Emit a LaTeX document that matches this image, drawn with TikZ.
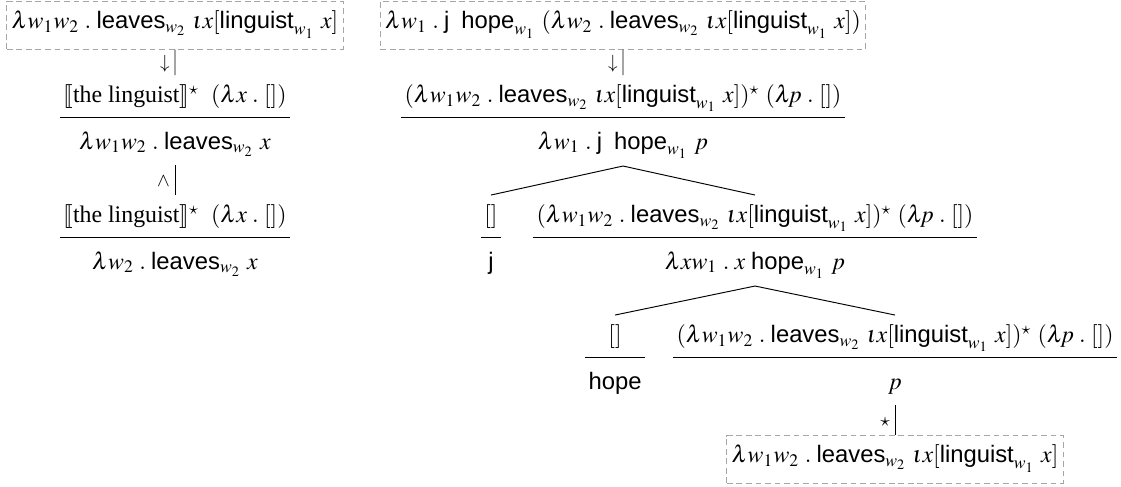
\documentclass[tikz,border=0pt]{standalone}
\usepackage{amsmath}
\usepackage{mathptmx}
\usepackage{stmaryrd}
\usepackage{fontspec}
\setmainfont{Liberation Serif}
\setsansfont{Liberation Sans}
\usepackage{tikz}

\newcommand{\cn}[1]{\textsf{#1}}
\newcommand{\sem}[1]{\llbracket\text{#1}\rrbracket}
\newcommand{\leavesterm}{\lambda w_1 w_2\;.\;\cn{leaves}_{w_2}\ \iota x[\cn{linguist}_{w_1}\ x]}
\newcommand{\inferfrac}[2]{%
  \begin{tabular}{@{\hspace{1.5pt}}c@{\hspace{1.5pt}}}
    $#1$\\[2.5pt]\hline
    \rule{0pt}{13pt}$#2$
  \end{tabular}}

\begin{document}
\begin{tikzpicture}[x=0.42pt,y=-0.42pt,
  every node/.style={anchor=north},
  growth parent anchor=north,
  parent anchor=south, child anchor=north,
  level 1/.style={level distance=31.1pt},
  level 2/.style={level distance=50.4pt, sibling distance=110.9pt},
  level 3/.style={sibling distance=117.6pt},
  semterm/.style={draw=gray!70, dash pattern=on 2.4pt off 1.6pt,
    inner xsep=2pt, inner ysep=4.5pt, text height=7pt, text depth=4pt},
  inferstep/.style={inner xsep=0pt, inner ysep=3pt},
  steplabel/.style={left, font=\footnotesize, inner sep=2pt, pos=0.55}]
  \useasboundingbox (0,0) rectangle (1121,487);

  % left derivation
  \node[semterm] (boxA) at (175,1) {$\leavesterm$}
    child {node[inferstep] (la) {\inferfrac{\sem{the linguist}^\star\ \ (\lambda x\;.\;[])}{\lambda w_1 w_2\;.\;\cn{leaves}_{w_2}\ x}}
      child {node[inferstep] (lb) {\inferfrac{\sem{the linguist}^\star\ \ (\lambda x\;.\;[])}{\lambda w_2\;.\;\cn{leaves}_{w_2}\ x}}
        edge from parent node[steplabel] {$\wedge$}}
      edge from parent node[steplabel] {$\downarrow$}};

  % right derivation
  \node[semterm] (boxB) at (623,1) {$\lambda w_1\;.\;\cn{j}\ \ \cn{hope}_{w_1}\ (\lambda w_2\;.\;\cn{leaves}_{w_2}\ \iota x[\cn{linguist}_{w_1}\ x])$}
    child {node[inferstep] (ra) {\inferfrac{(\leavesterm)^\star\ (\lambda\!p\;.\;[])}{\lambda w_1\;.\;\cn{j}\ \ \cn{hope}_{w_1}\ p}}
      child {node[inferstep] (rj) {\inferfrac{[]}{\cn{j}}}}
      child {node[inferstep] (rb) {\inferfrac{(\leavesterm)^\star\ (\lambda\!p\;.\;[])}{\lambda x w_1\;.\;x\ \cn{hope}_{w_1}\ p}}
        child {node[inferstep] (rhope) {\inferfrac{[]}{\cn{hope}}}}
        child {node[inferstep] (rc) {\inferfrac{(\leavesterm)^\star\ (\lambda\!p\;.\;[])}{p}}
          child {node[semterm] (boxC) {$\leavesterm$}
            edge from parent node[steplabel] {$\star$}}
        }
      }
      edge from parent node[steplabel] {$\downarrow$}};
\end{tikzpicture}
\end{document}
